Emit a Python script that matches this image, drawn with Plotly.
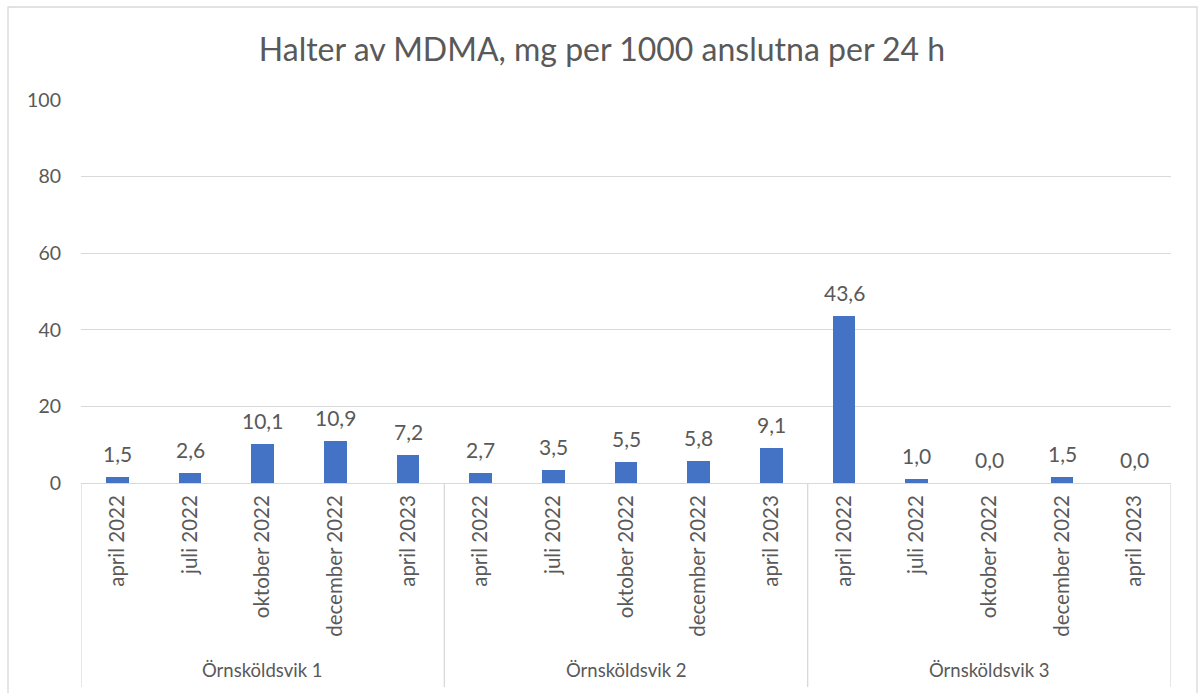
import plotly.graph_objects as go

groups = ["Örnsköldsvik 1", "Örnsköldsvik 2", "Örnsköldsvik 3"]
periods = ["april 2022", "juli 2022", "oktober 2022", "december 2022", "april 2023"]
values = [1.5, 2.6, 10.1, 10.9, 7.2,
          2.7, 3.5, 5.5, 5.8, 9.1,
          43.6, 1.0, 0.0, 1.5, 0.0]
y_ticks = [0, 20, 40, 60, 80, 100]

FONT = "Lato, Calibri, Carlito, sans-serif"
GREY = "#595959"
LINE = "#D9D9D9"

W, H = 1198, 693
L, R, T, B = 81, 27, 100, 210
PW, PH = W - L - R, H - T - B


def px_x(px):
    return (px - L) / PW


def px_y(py):
    return (H - B - py) / PH


n = len(values)
xs = list(range(n))
tick_text = periods * len(groups)

fig = go.Figure()
fig.add_trace(go.Bar(
    x=xs, y=values, width=0.31,
    marker=dict(color="#4472C4", line=dict(width=0)),
    hoverinfo="skip",
))

shapes = []
per = len(periods)
for k in range(len(groups) + 1):
    xv = k * per - 0.5
    shapes.append(dict(type="line", xref="x", yref="paper", x0=xv, x1=xv,
                       y0=0, y1=px_y(687), line=dict(color=LINE, width=1.3)))
shapes.append(dict(type="rect", xref="paper", yref="paper",
                   x0=px_x(8), x1=px_x(1197), y0=px_y(700), y1=px_y(7),
                   line=dict(color=LINE, width=1.3)))

annotations = []
for xi, v in zip(xs, values):
    annotations.append(dict(x=xi, y=v, xref="x", yref="y", yanchor="bottom",
                            yshift=9, text=f"{v:.1f}".replace(".", ","), showarrow=False,
                            font=dict(family=FONT, size=21, color=GREY)))
for k, g in enumerate(groups):
    annotations.append(dict(x=k * per + (per - 1) / 2, y=px_y(670), xref="x", yref="paper",
                            yanchor="middle", text=g, showarrow=False,
                            font=dict(family=FONT, size=18.5, color=GREY)))

fig.update_layout(
    width=W, height=H,
    margin=dict(l=L, r=R, t=T, b=B),
    paper_bgcolor="white", plot_bgcolor="white",
    separators=", ",
    showlegend=False,
    title=dict(text="Halter av MDMA, mg per 1000 anslutna per 24 h",
               x=602 / W, xanchor="center", y=1 - 50 / H, yanchor="middle",
               font=dict(family=FONT, size=32, color=GREY)),
    shapes=shapes, annotations=annotations,
    bargap=0,
)
fig.update_xaxes(range=[-0.5, n - 0.5], tickmode="array", tickvals=xs, ticktext=tick_text,
                 tickangle=-90, showgrid=False, zeroline=False, showline=False,
                 ticks="", automargin=False, ticklabelstandoff=7,
                 tickfont=dict(family=FONT, size=20.5, color=GREY))
fig.update_yaxes(range=[0, 100], tickmode="array", tickvals=y_ticks,
                 showgrid=True, gridcolor=LINE, gridwidth=1.3,
                 zeroline=True, zerolinecolor=LINE, zerolinewidth=1.3,
                 showline=False, ticks="", ticklabelstandoff=19, automargin=False,
                 tickfont=dict(family=FONT, size=19.5, color=GREY))

fig.write_html("out.html", config={"displayModeBar": False},
               post_script="document.body.style.margin='0px';")
